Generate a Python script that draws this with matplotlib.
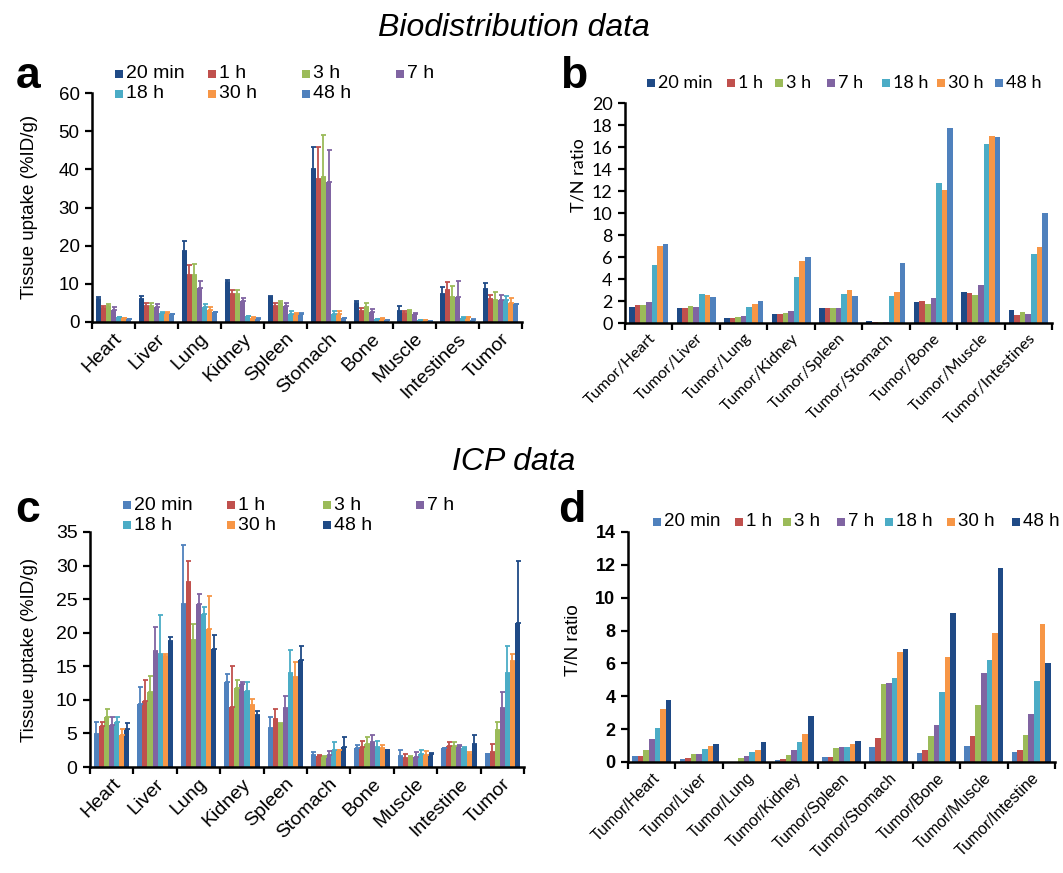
import numpy as np
import matplotlib
matplotlib.use('Agg')
import matplotlib.pyplot as plt
from matplotlib.patches import Rectangle

W, H = 1063, 873

times = ['20 min', '1 h', '3 h', '7 h', '18 h', '30 h', '48 h']

# --- a: biodistribution, %ID/g (one row per organ, columns = time points)
organs_a = ['Heart', 'Liver', 'Lung', 'Kidney', 'Spleen', 'Stomach',
            'Bone', 'Muscle', 'Intestines', 'Tumor']
a_mean = [[5.9, 3.6, 4.2, 3.2, 1.3, 1.0, 0.7],
          [6.0, 4.2, 4.2, 4.0, 2.4, 2.4, 2.1],
          [18.6, 12.4, 12.4, 8.8, 3.8, 3.2, 2.6],
          [10.6, 7.4, 7.4, 5.5, 1.6, 1.1, 0.9],
          [6.6, 4.3, 5.0, 4.3, 2.0, 2.2, 2.2],
          [40.0, 37.5, 38.0, 36.8, 2.0, 2.0, 1.0],
          [5.0, 3.0, 3.8, 2.7, 0.7, 0.9, 0.4],
          [3.0, 2.4, 2.8, 2.0, 0.4, 0.4, 0.3],
          [7.4, 8.3, 6.5, 6.5, 1.1, 1.3, 0.6],
          [8.7, 5.9, 5.8, 5.8, 5.7, 5.0, 4.6]]
a_err = [[0.6, 0.6, 0.6, 0.6, 0.1, 0.1, 0.1],
         [0.7, 0.7, 0.7, 0.6, 0.1, 0.1, 0.1],
         [2.6, 2.6, 2.9, 2.0, 0.9, 0.8, 0.1],
         [0.5, 0.9, 0.9, 0.8, 0.1, 0.1, 0.1],
         [0.3, 0.7, 0.6, 0.6, 0.8, 0.1, 0.1],
         [5.8, 8.3, 11.0, 8.2, 1.0, 1.0, 0.1],
         [0.5, 0.6, 1.2, 0.6, 0.1, 0.1, 0.1],
         [1.1, 0.5, 0.4, 0.3, 0.05, 0.05, 0.05],
         [1.9, 2.1, 3.0, 4.2, 0.1, 0.1, 0.1],
         [1.5, 1.1, 2.0, 1.2, 1.2, 1.2, 0.1]]

# --- b: biodistribution T/N ratios
ratios_b = ['Tumor/Heart', 'Tumor/Liver', 'Tumor/Lung', 'Tumor/Kidney',
            'Tumor/Spleen', 'Tumor/Stomach', 'Tumor/Bone', 'Tumor/Muscle',
            'Tumor/Intestines']
b_vals = [[1.45, 1.66, 1.66, 1.9, 5.23, 7.04, 7.19],
          [1.36, 1.36, 1.57, 1.5, 2.66, 2.54, 2.36],
          [0.45, 0.45, 0.55, 0.66, 1.5, 1.72, 2.02],
          [0.82, 0.82, 0.9, 1.1, 4.2, 5.6, 6.04],
          [1.36, 1.36, 1.4, 1.4, 2.63, 2.96, 2.42],
          [0.2, 0.1, 0.05, 0.05, 2.48, 2.78, 5.5],
          [1.87, 2.02, 1.7, 2.24, 12.7, 12.1, 17.7],
          [2.78, 2.72, 2.57, 3.47, 16.25, 17.04, 16.9],
          [1.2, 0.7, 1.0, 0.85, 6.28, 6.95, 10.03]]

# --- c: ICP, %ID/g
organs_c = ['Heart', 'Liver', 'Lung', 'Kidney', 'Spleen', 'Stomach',
            'Bone', 'Muscle', 'Intestine', 'Tumor']
c_mean = [[4.9, 6.1, 7.5, 6.2, 6.7, 4.8, 5.6],
          [9.4, 9.9, 11.1, 17.3, 16.9, 16.5, 18.7],
          [24.3, 27.5, 18.9, 24.3, 22.8, 20.5, 17.6],
          [12.6, 9.0, 11.7, 12.4, 11.3, 9.2, 7.7],
          [5.8, 7.1, 6.4, 8.8, 14.0, 13.4, 15.9],
          [1.8, 1.7, 1.5, 1.8, 2.5, 2.5, 3.0],
          [2.9, 3.0, 3.5, 3.7, 3.0, 2.8, 2.5],
          [1.7, 1.4, 1.5, 1.5, 1.9, 1.8, 2.0],
          [2.8, 3.1, 3.1, 3.1, 2.8, 2.0, 3.4],
          [1.9, 2.3, 5.5, 8.8, 14.0, 15.8, 21.5]]
c_top = [[6.7, 6.7, 8.6, 7.4, 7.4, 5.6, 6.5],
         [11.9, 12.9, 13.6, 20.8, 22.7, 16.9, 19.4],
         [33.1, 30.7, 21.3, 25.8, 23.9, 25.5, 19.6],
         [13.8, 15.0, 12.9, 12.6, 12.6, 10.1, 8.4],
         [7.4, 8.6, 6.6, 10.6, 17.4, 15.7, 18.0],
         [2.3, 1.8, 1.6, 2.4, 3.7, 2.6, 4.5],
         [3.3, 3.9, 4.5, 4.7, 3.9, 3.3, 2.6],
         [2.5, 2.0, 1.6, 2.2, 2.6, 2.4, 2.1],
         [2.9, 3.7, 3.7, 3.3, 3.0, 2.3, 4.7],
         [2.0, 3.4, 6.7, 11.2, 18.0, 16.8, 30.7]]

# --- d: ICP T/N ratios
ratios_d = ['Tumor/Heart', 'Tumor/Liver', 'Tumor/Lung', 'Tumor/Kidney',
            'Tumor/Spleen', 'Tumor/Stomach', 'Tumor/Bone', 'Tumor/Muscle',
            'Tumor/Intestine']
d_vals = [[0.37, 0.37, 0.71, 1.4, 2.1, 3.2, 3.8],
          [0.18, 0.22, 0.5, 0.5, 0.81, 0.96, 1.12],
          [0.02, 0.02, 0.26, 0.35, 0.6, 0.75, 1.2],
          [0.1, 0.2, 0.4, 0.71, 1.22, 1.7, 2.8],
          [0.3, 0.3, 0.88, 0.94, 0.94, 1.1, 1.26],
          [0.9, 1.47, 4.73, 4.79, 5.1, 6.7, 6.9],
          [0.55, 0.71, 1.57, 2.28, 4.26, 6.4, 9.04],
          [0.96, 1.57, 3.5, 5.4, 6.19, 7.88, 11.8],
          [0.61, 0.75, 1.63, 2.93, 4.93, 8.39, 6.0]]

navy = '#1F4A86'
cols_ab = [navy, '#C0504D', '#9BBB59', '#8064A2', '#4BACC6', '#F79646', '#4F81BD']
cols_cd = ['#4F81BD', '#C0504D', '#9BBB59', '#8064A2', '#4BACC6', '#F79646', navy]

ARIAL = 'Liberation Sans'
CALIBRI = 'Lato'

fig = plt.figure(figsize=(W / 100, H / 100), dpi=100)


def fx(x):
    return x / W


def fy(y):
    return 1 - y / H


def new_axes(l, t, r, b):
    return fig.add_axes([fx(l), fy(b), (r - l) / W, (b - t) / H])


def draw_bars(ax, vals, colors, errs=None):
    vals = np.array(vals).T
    n = vals.shape[1]
    centers = np.arange(n) + 0.5
    w = 0.82 / 7
    for i in range(7):
        xs = centers - 0.41 + w * (i + 0.5)
        if errs is None:
            ax.bar(xs, vals[i], w, color=colors[i], linewidth=0)
        else:
            e = np.array(errs).T[i]
            ax.bar(xs, vals[i], w, color=colors[i], linewidth=0,
                   yerr=[np.zeros(n), e], capsize=1.8,
                   error_kw=dict(ecolor=colors[i], elinewidth=1.3, capthick=1.3))
    ax.set_xlim(0, n)
    return centers


def style_axes(ax, centers, labels, ymax, ystep, tick_font, tick_size, lab_font,
               lab_size, bold=False):
    for s in ['top', 'right']:
        ax.spines[s].set_visible(False)
    for s in ['left', 'bottom']:
        ax.spines[s].set_linewidth(1.8)
        ax.spines[s].set_color('black')
    ax.set_ylim(0, ymax)
    ax.set_yticks(np.arange(0, ymax + 0.01, ystep))
    ax.set_xticks(np.arange(len(labels) + 1))
    ax.set_xticklabels([])
    ax.set_xticks(centers, minor=True)
    ax.set_xticklabels(labels, minor=True, rotation=45, ha='right',
                       rotation_mode='anchor', family=lab_font, fontsize=lab_size)
    ax.tick_params(axis='x', which='minor', length=0, pad=6)
    ax.tick_params(axis='x', which='major', direction='out', length=5, width=1.6)
    ax.tick_params(axis='y', direction='out', length=5, width=1.6, pad=4)
    for t in ax.get_yticklabels():
        t.set_family(tick_font)
        t.set_fontsize(tick_size)
        if bold:
            t.set_fontweight('bold')


def legend(xs, ys, colors, size, family, ms=8):
    for x, y, lab, c in zip(xs, ys, times, colors):
        fig.patches.append(Rectangle((fx(x), fy(y + ms / 2)), ms / W, ms / H,
                                     transform=fig.transFigure, facecolor=c,
                                     edgecolor='none'))
        fig.text(fx(x + ms + 3), fy(y), lab, va='center', ha='left',
                 fontsize=size, family=family)


# titles and panel letters
fig.text(fx(514), fy(28), 'Biodistribution data', ha='center', va='center',
         fontsize=23, style='italic', family=ARIAL)
fig.text(fx(514), fy(462), 'ICP data', ha='center', va='center',
         fontsize=23, style='italic', family=ARIAL)
for lab, x, y in [('a', 28, 76), ('b', 574, 76), ('c', 28, 510), ('d', 572, 510)]:
    fig.text(fx(x), fy(y), lab, ha='center', va='center', fontsize=32,
             fontweight='bold', family=ARIAL)

# a
ax = new_axes(92, 93, 522, 322)
ctr = draw_bars(ax, a_mean, cols_ab, a_err)
style_axes(ax, ctr, organs_a, 60, 10, ARIAL, 13.5, ARIAL, 14)
fig.text(fx(30), fy(207), 'Tissue uptake (%ID/g)', rotation=90, ha='center',
         va='center', fontsize=13.5, family=ARIAL)
legend([115, 208, 302, 396, 115, 208, 302], [74, 74, 74, 74, 94, 94, 94],
       cols_ab, 14, ARIAL)

# b
ax = new_axes(625, 103, 1052, 323)
ctr = draw_bars(ax, b_vals, cols_ab)
style_axes(ax, ctr, ratios_b, 20, 2, CALIBRI, 13, CALIBRI, 11.5)
fig.text(fx(578), fy(175), 'T/N ratio', rotation=90, ha='center', va='center',
         fontsize=13, family=CALIBRI)
legend([647, 727, 775, 827, 882, 937, 995], [83] * 7, cols_ab, 13, CALIBRI)

# c
ax = new_axes(90, 532, 524, 767)
ctr = draw_bars(ax, c_mean, cols_cd, np.array(c_top) - np.array(c_mean))
style_axes(ax, ctr, organs_c, 35, 5, ARIAL, 14, ARIAL, 14)
fig.text(fx(30), fy(650), 'Tissue uptake (%ID/g)', rotation=90, ha='center',
         va='center', fontsize=13.5, family=ARIAL)
legend([123, 227, 323, 416, 123, 227, 323], [505, 505, 505, 505, 525, 525, 525],
       cols_cd, 14, ARIAL)

# d
ax = new_axes(628, 532, 1055, 762)
ctr = draw_bars(ax, d_vals, cols_cd)
style_axes(ax, ctr, ratios_d, 14, 2, ARIAL, 13, ARIAL, 11.5, bold=True)
fig.text(fx(574), fy(640), 'T/N ratio', rotation=90, ha='center', va='center',
         fontsize=13.5, family=ARIAL)
legend([653, 735, 783, 837, 885, 947, 1012], [522] * 7, cols_cd, 13.5, ARIAL)

fig.savefig('out.png', dpi=100)
